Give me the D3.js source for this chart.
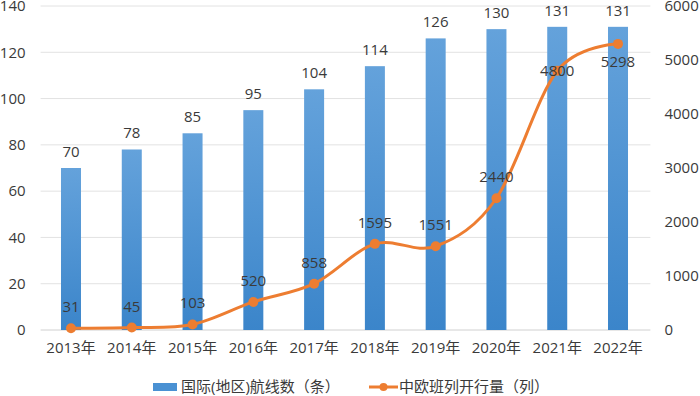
<!DOCTYPE html>
<html>
<head>
<meta charset="utf-8">
<script src="https://cdn.jsdelivr.net/npm/d3@7"></script>
<style>
  body { margin: 0; background: #fff; }
  text { font-family: "Open Sans", "Noto Sans CJK SC", sans-serif; fill: #3a3a3a; }
</style>
</head>
<body>
<div id="chart"></div>
<script>
// Données
const years = ["2013年", "2014年", "2015年", "2016年", "2017年", "2018年", "2019年", "2020年", "2021年", "2022年"];
const routes = [70, 78, 85, 95, 104, 114, 126, 130, 131, 131];
const trains = [31, 45, 103, 520, 858, 1595, 1551, 2440, 4800, 5298];
const leftTicks = [0, 20, 40, 60, 80, 100, 120, 140];
const rightTicks = [0, 1000, 2000, 3000, 4000, 5000, 6000];
const seriesNames = ["国际(地区)航线数（条）", "中欧班列开行量（列）"];

const W = 700, H = 396;
const plot = { left: 40.6, right: 648.4, top: 6, bottom: 330 };

const svg = d3.select("#chart").append("svg")
    .attr("width", W).attr("height", H);

const defs = svg.append("defs");
const grad = defs.append("linearGradient")
    .attr("id", "barGrad").attr("x1", 0).attr("y1", 0).attr("x2", 0).attr("y2", 1);
grad.append("stop").attr("offset", "0%").attr("stop-color", "#64a2db");
grad.append("stop").attr("offset", "100%").attr("stop-color", "#3b85ca");

const x = d3.scaleBand().domain(years).range([plot.left, plot.right]);
const yL = d3.scaleLinear().domain([0, 140]).range([plot.bottom, plot.top]);
const yR = d3.scaleLinear().domain([0, 6000]).range([plot.bottom, plot.top]);

// Grille
svg.append("g").selectAll("line").data(leftTicks).enter().append("line")
    .attr("x1", plot.left).attr("x2", plot.right + 2)
    .attr("y1", d => yL(d)).attr("y2", d => yL(d))
    .attr("stroke", d => d === 0 ? "#d0d0d0" : "#e2e2e2").attr("stroke-width", 1);

// Axes
const axL = svg.append("g").attr("transform", `translate(${plot.left},0)`)
    .call(d3.axisLeft(yL).tickValues(leftTicks).tickSize(0).tickPadding(15));
const axR = svg.append("g").attr("transform", `translate(${plot.right},0)`)
    .call(d3.axisRight(yR).tickValues(rightTicks).tickFormat(d3.format("d")).tickSize(0).tickPadding(16));
const axB = svg.append("g").attr("transform", `translate(0,${plot.bottom})`)
    .call(d3.axisBottom(x).tickSize(0).tickPadding(12));
[axL, axR, axB].forEach(a => {
    a.select(".domain").remove();
    a.selectAll("text").style("font-size", "15px").attr("fill", "#3a3a3a");
});

// Barres
const bw = 20;
svg.append("g").selectAll("rect").data(routes).enter().append("rect")
    .attr("x", (d, i) => x(years[i]) + x.bandwidth() / 2 - bw / 2)
    .attr("y", d => yL(d))
    .attr("width", bw)
    .attr("height", d => plot.bottom - yL(d))
    .attr("fill", "url(#barGrad)");

svg.append("g").selectAll("text").data(routes).enter().append("text")
    .attr("x", (d, i) => x(years[i]) + x.bandwidth() / 2)
    .attr("y", d => yL(d) - 11)
    .attr("text-anchor", "middle")
    .style("font-size", "15px")
    .text(d => d);

// Ligne
const cx = i => x(years[i]) + x.bandwidth() / 2;
const line = d3.line()
    .x((d, i) => cx(i))
    .y(d => yR(d))
    .curve(d3.curveCatmullRom.alpha(0));

svg.append("path").datum(trains)
    .attr("d", line)
    .attr("fill", "none")
    .attr("stroke", "#ed7d31")
    .attr("stroke-width", 3);

svg.append("g").selectAll("circle").data(trains).enter().append("circle")
    .attr("cx", (d, i) => cx(i))
    .attr("cy", d => yR(d))
    .attr("r", 5)
    .attr("fill", "#ed7d31");

const labelDy = (d, i) => i === 9 ? 23 : (i === 8 ? 5 : -16);
svg.append("g").selectAll("text").data(trains).enter().append("text")
    .attr("x", (d, i) => cx(i))
    .attr("y", (d, i) => yR(d) + labelDy(d, i))
    .attr("text-anchor", "middle")
    .style("font-size", "15px")
    .text(d => d);

// Légende
const lg = svg.append("g");
lg.append("rect").attr("x", 153).attr("y", 383).attr("width", 24).attr("height", 8)
    .attr("fill", "#4a91d3");
lg.append("text").attr("x", 181).attr("y", 392).style("font-size", "15px").text(seriesNames[0]);
lg.append("line").attr("x1", 369).attr("x2", 398).attr("y1", 387).attr("y2", 387)
    .attr("stroke", "#ed7d31").attr("stroke-width", 3);
lg.append("circle").attr("cx", 383.5).attr("cy", 387).attr("r", 4).attr("fill", "#ed7d31");
lg.append("text").attr("x", 399).attr("y", 392).style("font-size", "15px").text(seriesNames[1]);
</script>
</body>
</html>
